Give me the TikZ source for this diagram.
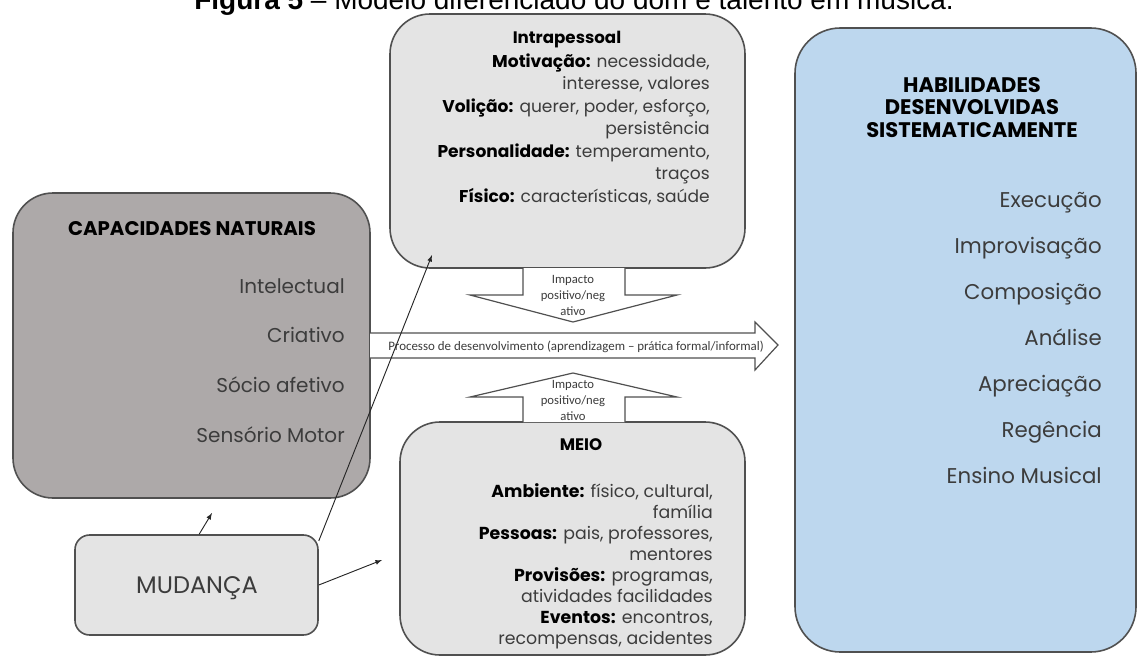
\documentclass[tikz,border=0pt]{standalone}
\usepackage{fontspec}
\setmainfont{Liberation Sans}
\newfontfamily\gothic{Poppins}
\newfontfamily\calib{Carlito}
\usetikzlibrary{fit}
\usetikzlibrary{arrows}

\definecolor{capgray}{HTML}{ADA9A9}
\definecolor{boxgray}{HTML}{E4E4E4}
\definecolor{habblue}{HTML}{BDD7EE}
\definecolor{edgegray}{HTML}{505050}
\definecolor{txtgray}{HTML}{3C3C3C}

\newcommand{\setfs}[2]{\fontsize{#1}{#2}\selectfont}
\newcommand{\lbl}[1]{\textcolor{black}{\bfseries #1}}

\tikzset{
  box/.style={draw=edgegray, line width=1.2pt, inner sep=0pt},
  bigarrow/.style={draw=edgegray, line width=0.9pt, fill=white, line join=miter},
  conn/.style={draw=black!85, line width=0.7pt, -latex},
  item/.style={anchor=base east, inner sep=0pt, text=txtgray, font=\gothic\setfs{#1}{18}},
  small/.style={anchor=base east, inner sep=0pt, text=txtgray, font=\gothic\setfs{#1}{14}},
  head/.style={anchor=base, inner sep=0pt, text=black, font=\gothic\bfseries\setfs{#1}{#1}},
  arrowtext/.style={anchor=base, inner sep=0pt, text=txtgray, font=\calib\setfs{9.5}{11}}
}

\begin{document}
\begin{tikzpicture}[x=0.75pt,y=-0.75pt]
\useasboundingbox (0,0) rectangle (1138,657);

% title of the figure, cut at the top
\node[anchor=base, inner sep=0pt, font=\setfs{21}{23}] (title) at (574,9)
  {\textbf{Figura 5} – Modelo diferenciado do dom e talento em música.};

% boxes
\node[box, fill=boxgray, rounded corners=30pt, fit={(390,14) (745,268)}] (intra) {};
\node[box, fill=capgray, rounded corners=30pt, fit={(13,193) (370,498)}] (cap) {};
\node[box, fill=boxgray, rounded corners=11pt, fit={(75,535) (318,635)}] (mud) {};
\node[box, fill=boxgray, rounded corners=30pt, fit={(400,422) (745,655)}] (meio) {};
\node[box, fill=habblue, rounded corners=34pt, fit={(795,28) (1136,652)}] (hab) {};

% block arrows
\draw[bigarrow] (370,333) -- (755,333) -- (755,322) -- (778,345) -- (755,370)
  -- (755,358) -- (370,358);
\draw[bigarrow] (523,268) -- (523,295) -- (470,295) -- (573,322) -- (677,295)
  -- (625,295) -- (625,268);
\draw[bigarrow] (523,422) -- (523,397) -- (470,397) -- (573,373) -- (677,397)
  -- (625,397) -- (625,422);

\node[arrowtext, anchor=base west, font=\calib\setfs{9.7}{11}] (proc) at (388,350)
  {Processo de desenvolvimento (aprendizagem – prática formal/informal)};
\foreach \t [count=\i] in {Impacto, positivo/neg, ativo} {
  \node[arrowtext] (impup-\i) at (573,283+16*\i-16) {\t};
  \node[arrowtext] (impdn-\i) at (573,388+16*\i-16) {\t};
}

% Capacidades naturais
\node[head=14.8] (captitle) at (192,235) {CAPACIDADES NATURAIS};
\foreach \t [count=\i] in {Intelectual, Criativo, Sócio afetivo, Sensório Motor}
  \node[item=15] (cap-\i) at (345,293+49.7*\i-49.7) {\t};

% Intrapessoal
\node[head=12.5] (intratitle) at (567,43) {Intrapessoal};
\foreach \t [count=\i] in {{\lbl{Motivação:} necessidade,}, {interesse, valores},
    {\lbl{Volição:} querer, poder, esforço,}, {persistência},
    {\lbl{Personalidade:} temperamento,}, {traços},
    {\lbl{Físico:} características, saúde}}
  \node[small=12.8] (intra-\i) at (710,67+22.5*\i-22.5) {\t};

% Meio
\node[head=12.5] (meiotitle) at (581,450) {MEIO};
\foreach \t [count=\i] in {{\lbl{Ambiente:} físico, cultural,}, {família},
    {\lbl{Pessoas:} pais, professores,}, {mentores},
    {\lbl{Provisões:} programas,}, {atividades facilidades},
    {\lbl{Eventos:} encontros,}, {recompensas, acidentes}}
  \node[small=13] (meio-\i) at (713,497+21.1*\i-21.1) {\t};

% Habilidades
\foreach \t [count=\i] in {HABILIDADES, DESENVOLVIDAS, SISTEMATICAMENTE}
  \node[head=15.8] (habtitle-\i) at (972,92+22.5*\i-22.5) {\t};
\foreach \t [count=\i] in {Execução, Improvisação, Composição, Análise,
    Apreciação, Regência, Ensino Musical}
  \node[item=16] (hab-\i) at (1102,207+46*\i-46) {\t};

% Mudança
\node[anchor=base, inner sep=0pt, text=txtgray, font=\gothic\setfs{18}{20}]
  (mudtext) at (197,593) {MUDANÇA};

% connectors
\coordinate (intratip) at (432,255);
\coordinate (captip) at (212,513);
\coordinate (meiotip) at (382,560);
\draw[conn] ([yshift=-5pt]mud.north east) -- (intratip);
\draw[conn] ([xshift=2pt]mud.north) -- (captip);
\draw[conn] (mud.east) -- (meiotip);
\end{tikzpicture}
\end{document}
